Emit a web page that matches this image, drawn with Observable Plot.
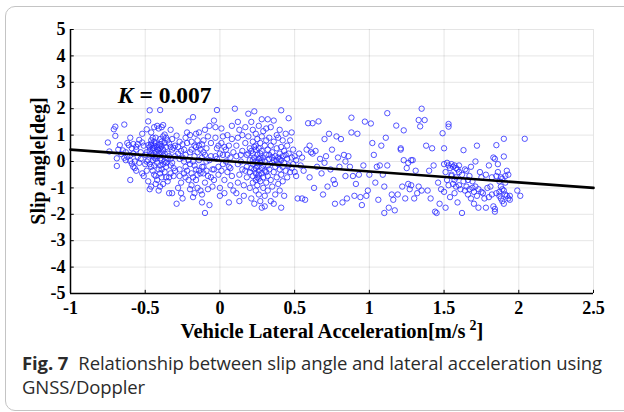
<!DOCTYPE html>
<html><head><meta charset="utf-8">
<script src="https://cdn.jsdelivr.net/npm/d3@7"></script>
<script src="https://cdn.jsdelivr.net/npm/@observablehq/plot@0.6"></script>
<style>
body{margin:0;background:#fff;width:624px;height:412px;overflow:hidden;position:relative;}
#card{position:absolute;left:5px;top:6px;width:660px;height:403px;border:1px solid #c4c4c4;border-radius:10px;}
#chart{position:absolute;left:0;top:0;}
#caption{position:absolute;left:22px;top:351px;font-family:"Open Sans";font-size:18.5px;color:#2b2b2b;line-height:24px;white-space:nowrap;letter-spacing:-0.1px;}
#caption b{margin-right:10px;}
</style></head><body>
<div id="card"></div>
<div id="chart"></div>
<div id="caption"><b>Fig. 7</b>Relationship between slip angle and lateral acceleration using<br>GNSS/Doppler</div>
<script>
// Tick values
const xTicks = [-1, -0.5, 0, 0.5, 1, 1.5, 2, 2.5];
const yTicks = [-5, -4, -3, -2, -1, 0, 1, 2, 3, 4, 5];

// Fitted line end points [acceleration, slip angle]
const fitAccel = [-1, 2.5];
const fitSlip = [0.45, -1.0];
const fitLabel = "K = 0.007";

// Samples [lateral acceleration m/s², slip angle deg]
const clusterA = [[-0.75,0.72],[-0.74,0.38],[-0.7,1.32],[-0.71,1.22],[-0.7,0.97],[-0.69,0.12],[-0.69,-0.17],[-0.68,0.45],[-0.67,0.62],[-0.64,1.4],[-0.66,0.28],[-0.64,0.14],[-0.63,0.05],[-0.62,0.7],[-0.61,0.62],[-0.6,-0.7],[-0.6,0.24],[-0.59,-0.08],[-0.58,-0.2],[-0.58,0.66],[-0.57,0.0],[-0.56,0.45],[-0.55,0.66],[-0.54,0.82],[-0.53,0.35],[-0.52,-0.45],[-0.51,-0.55],[-0.52,1.05],[-0.56,0.56],[-0.62,0.18],[-0.65,0.42],[-0.59,0.5],[-0.6,0.02],[-0.57,-0.25],[-0.55,0.18],[-0.53,0.1],[-0.58,0.3],[-0.63,0.35],[-0.51,0.6],[-0.5,0.25],[-0.5,-0.1],[-0.54,-0.05],[-0.56,-0.35],[-0.6,0.9],[-0.52,0.72]];
const clusterB = [[-0.49,1.22],[-0.48,1.52],[-0.47,1.94],[-0.46,1.1],[-0.45,0.9],[-0.44,0.75],[-0.48,0.62],[-0.47,0.55],[-0.46,0.62],[-0.45,0.5],[-0.44,0.6],[-0.43,0.68],[-0.42,0.55],[-0.41,0.62],[-0.4,0.5],[-0.39,0.58],[-0.38,0.45],[-0.47,0.4],[-0.46,0.3],[-0.45,0.22],[-0.44,0.15],[-0.43,0.1],[-0.42,0.2],[-0.41,0.3],[-0.4,0.12],[-0.39,0.05],[-0.38,0.22],[-0.37,0.0],[-0.36,-0.05],[-0.48,0.05],[-0.47,-0.1],[-0.46,-0.2],[-0.45,-0.35],[-0.44,-0.5],[-0.43,-0.55],[-0.42,-0.7],[-0.41,-0.3],[-0.4,-0.45],[-0.39,-0.6],[-0.38,-0.85],[-0.37,-0.4],[-0.36,-0.2],[-0.48,-0.75],[-0.47,-1.05],[-0.46,-0.95],[-0.43,-0.85],[-0.41,-1.1],[-0.4,-0.95],[-0.35,-0.75],[-0.34,-1.2],[-0.32,-1.2],[-0.44,1.3],[-0.42,1.35],[-0.41,1.25],[-0.4,1.95],[-0.39,1.3],[-0.38,1.38],[-0.37,1.02],[-0.36,0.9],[-0.35,0.8],[-0.34,0.68],[-0.33,0.55],[-0.32,0.45],[-0.31,0.52],[-0.35,0.3],[-0.34,0.2],[-0.33,0.1],[-0.32,-0.05],[-0.31,-0.25],[-0.3,-0.35],[-0.33,-0.45],[-0.34,-0.6],[-0.31,-0.55],[-0.3,0.2],[-0.3,0.6],[-0.32,0.85],[-0.33,1.2],[-0.45,0.42],[-0.43,0.35],[-0.41,0.42],[-0.39,0.35],[-0.42,-0.05],[-0.4,-0.15],[-0.38,-0.1],[-0.44,-0.15],[-0.45,0.05],[-0.37,0.3],[-0.36,0.55],[-0.37,0.7],[-0.43,0.9],[-0.4,0.85],[-0.38,0.95],[-0.46,0.8],[-0.49,0.35],[-0.49,0.0],[-0.49,-0.35],[-0.36,-0.6],[-0.39,-0.3],[-0.35,0.1],[-0.33,-0.15],[-0.42,0.45],[-0.44,0.52],[-0.4,0.65],[-0.46,0.68],[-0.39,0.75]];
const clusterC = [[-0.29,0.98],[-0.28,0.55],[-0.28,0.3],[-0.27,0.1],[-0.27,-0.3],[-0.27,-0.55],[-0.26,-0.8],[-0.26,-1.2],[-0.25,-1.4],[-0.29,-1.6],[-0.24,0.45],[-0.24,0.0],[-0.23,-0.2],[-0.23,-0.6],[-0.22,0.7],[-0.22,1.1],[-0.21,1.52],[-0.2,1.0],[-0.2,0.35],[-0.2,-0.1],[-0.19,-0.45],[-0.19,-0.9],[-0.18,-1.35],[-0.18,1.68],[-0.17,0.6],[-0.17,0.2],[-0.16,-0.3],[-0.16,-0.7],[-0.15,-1.0],[-0.15,0.8],[-0.14,1.1],[-0.14,0.05],[-0.13,-0.45],[-0.13,-1.1],[-0.12,-1.55],[-0.12,0.65],[-0.11,0.35],[-0.11,-0.2],[-0.1,-0.8],[-0.1,1.2],[-0.09,0.5],[-0.09,0.0],[-0.08,-0.55],[-0.08,-1.05],[-0.07,-1.65],[-0.07,1.35],[-0.06,0.7],[-0.06,0.2],[-0.05,-0.3],[-0.05,-0.95],[-0.25,0.65],[-0.23,0.25],[-0.21,0.05],[-0.19,0.45],[-0.18,0.0],[-0.17,-0.15],[-0.15,0.35],[-0.14,-0.35],[-0.12,0.15],[-0.11,-0.45],[-0.1,0.25],[-0.26,0.4],[-0.25,0.15],[-0.24,-0.45],[-0.22,-0.35],[-0.21,-0.7],[-0.2,-1.05],[-0.18,-0.6],[-0.16,0.55],[-0.15,-0.5],[-0.13,0.45],[-0.12,-0.2],[-0.09,-0.35],[-0.07,0.05],[-0.06,-0.6],[-0.28,-1.0],[-0.27,0.75],[-0.23,0.9],[-0.19,0.75],[-0.16,1.05],[-0.14,0.6],[-0.11,0.8],[-0.08,0.95],[-0.1,-1.95],[-0.12,-1.25],[-0.17,-1.2]];
const clusterD = [[-0.04,1.55],[-0.03,1.3],[-0.03,0.9],[-0.02,0.5],[-0.02,0.1],[-0.01,-0.2],[-0.01,-0.5],[0.0,-1.0],[0.0,-1.3],[-0.02,1.95],[0.01,1.25],[0.01,0.7],[0.02,0.25],[0.02,-0.1],[0.03,-0.7],[0.03,-1.2],[0.04,0.45],[0.04,0.0],[0.05,-0.4],[0.05,1.0],[0.06,0.6],[0.06,-0.2],[0.07,-0.9],[0.07,0.15],[0.08,0.85],[0.08,-0.55],[0.09,0.35],[0.09,-1.1],[0.0,0.3],[-0.04,-0.3],[-0.04,-0.7],[0.01,-0.35],[0.05,0.25],[0.02,0.95],[-0.01,0.6],[0.06,-1.55],[0.08,1.35],[-0.03,0.2],[0.03,0.55],[0.07,-0.25]];
const clusterE = [[0.1,2.0],[0.12,1.5],[0.13,1.2],[0.12,0.9],[0.11,0.6],[0.11,0.2],[0.12,-0.1],[0.13,-0.5],[0.12,-0.8],[0.11,-1.2],[0.13,-1.5],[0.15,1.0],[0.15,0.4],[0.14,0.0],[0.15,-0.3],[0.16,-0.9],[0.16,-1.3],[0.17,1.3],[0.17,0.7],[0.18,0.25],[0.18,-0.2],[0.18,-0.6],[0.19,1.81],[0.19,0.95],[0.2,0.5],[0.2,0.05],[0.2,-0.4],[0.2,-1.0],[0.21,-1.4],[0.21,1.5],[0.22,1.2],[0.22,0.75],[0.22,0.3],[0.22,-0.1],[0.22,-0.55],[0.22,-0.8],[0.23,1.9],[0.23,0.15],[0.23,-0.3],[0.23,-1.6],[0.24,1.05],[0.24,0.6],[0.24,0.45],[0.24,0.0],[0.24,-0.45],[0.24,-0.7],[0.24,-1.1],[0.25,0.85],[0.25,0.25],[0.25,-0.2],[0.25,-0.6],[0.25,-0.9],[0.26,1.35],[0.26,0.5],[0.26,0.1],[0.26,-0.35],[0.26,-0.5],[0.26,-1.25],[0.27,0.7],[0.27,0.3],[0.27,-0.05],[0.27,-0.75],[0.27,-1.5],[0.28,1.6],[0.28,0.95],[0.28,0.4],[0.28,-0.25],[0.28,-0.45],[0.28,-1.75],[0.29,1.15],[0.29,0.15],[0.29,-0.6],[0.29,-1.0],[0.3,0.6],[0.3,0.0],[0.3,-0.35],[0.3,-1.3],[0.3,-1.7],[0.31,1.25],[0.31,0.8],[0.31,0.25],[0.31,-0.8],[0.32,1.6],[0.32,0.45],[0.32,-0.15],[0.32,-0.55],[0.32,-1.1],[0.33,0.9],[0.33,0.1],[0.33,-0.3],[0.34,1.3],[0.34,0.6],[0.34,-0.7],[0.34,-1.5],[0.35,0.35],[0.35,-0.05],[0.35,-0.95],[0.36,1.55],[0.36,0.75],[0.36,-0.4],[0.36,-1.6],[0.37,0.2],[0.37,-0.2],[0.37,-1.25],[0.38,1.0],[0.38,0.5],[0.38,-0.6],[0.39,0.9],[0.39,0.15],[0.39,-0.1],[0.39,-0.85],[0.4,1.2],[0.4,0.3],[0.4,-0.3],[0.4,-1.1],[0.41,1.94],[0.41,0.55],[0.41,0.05],[0.41,-0.5],[0.41,-1.75],[0.42,0.8],[0.42,0.2],[0.42,-0.2],[0.42,-0.75],[0.43,0.4],[0.43,-0.05],[0.43,-1.3],[0.44,1.05],[0.44,0.25],[0.44,-0.35],[0.45,0.6],[0.45,0.1],[0.45,-0.6],[0.46,1.64],[0.46,0.3],[0.46,-0.15],[0.47,0.8],[0.47,-0.4],[0.48,1.1],[0.48,0.15],[0.48,-0.25],[0.49,0.45],[0.49,-0.1],[0.5,0.2],[0.5,-0.4],[0.21,0.4],[0.23,0.55],[0.25,-0.05],[0.27,0.15],[0.26,-0.65],[0.24,-0.25],[0.22,0.05],[0.28,0.05],[0.29,-0.15],[0.21,-0.25],[0.19,0.3],[0.17,-0.35],[0.33,0.25],[0.31,-0.4],[0.35,0.15],[0.38,0.05],[0.4,0.1],[0.36,0.05],[0.14,0.25]];
const clusterF = [[0.51,0.05],[0.51,-0.55],[0.52,-1.4],[0.53,0.3],[0.54,-0.15],[0.55,0.15],[0.55,-1.4],[0.56,-0.35],[0.57,-1.45],[0.58,0.45],[0.59,1.45],[0.6,0.6],[0.6,-0.6],[0.61,0.35],[0.62,1.45],[0.62,0.3],[0.63,-1.0],[0.64,0.4],[0.65,-0.2],[0.66,1.52],[0.67,0.1],[0.68,-0.45],[0.69,-1.25],[0.7,0.85],[0.71,0.2],[0.72,-0.95],[0.73,1.05],[0.74,-0.3],[0.75,0.45],[0.76,-0.7],[0.77,-1.6],[0.78,0.95],[0.79,0.15],[0.8,-0.2],[0.81,0.85],[0.82,-1.55],[0.83,0.25],[0.84,-0.55],[0.85,-1.4],[0.86,0.2],[0.87,-0.2],[0.88,1.66],[0.88,1.1],[0.89,-0.55],[0.9,-1.3],[0.91,-0.85],[0.92,1.05],[0.93,-0.5],[0.94,-1.35],[0.95,-1.65],[0.96,-0.15],[0.97,1.51],[0.98,-1.3],[0.99,-1.1],[0.77,-0.85],[0.7,-0.05],[0.84,0.0]];
const clusterG = [[1.0,-0.5],[1.01,1.44],[1.02,0.7],[1.03,0.25],[1.04,-0.8],[1.05,-0.2],[1.06,-1.45],[1.07,-0.15],[1.08,0.6],[1.09,-0.5],[1.1,-0.95],[1.1,-1.95],[1.11,0.9],[1.12,1.83],[1.12,-0.15],[1.13,-1.75],[1.15,-1.25],[1.16,-1.45],[1.17,-1.85],[1.18,1.36],[1.19,-1.25],[1.21,0.5],[1.22,-0.95],[1.23,1.18],[1.23,0.05],[1.24,-1.4],[1.25,-0.25],[1.26,-0.85],[1.27,-1.05],[1.28,-0.9],[1.29,0.05],[1.3,-1.4],[1.31,-0.35],[1.32,-1.2],[1.33,-0.95],[1.33,1.57],[1.34,1.33],[1.35,2.0],[1.35,-1.1],[1.37,1.57],[1.38,0.6],[1.39,-1.1],[1.4,-0.35],[1.41,-1.4],[1.42,0.5],[1.43,-0.15],[1.44,-1.9],[1.45,-1.95],[1.21,0.45],[1.28,0.05],[1.26,-0.05]];
const clusterH = [[1.46,-0.8],[1.47,-1.6],[1.48,-1.05],[1.49,1.07],[1.5,0.5],[1.5,-0.1],[1.5,-1.15],[1.51,-0.4],[1.51,-1.75],[1.52,-0.05],[1.52,-0.7],[1.53,1.42],[1.53,1.32],[1.53,-0.15],[1.53,-0.9],[1.54,-1.35],[1.55,-0.1],[1.55,-0.5],[1.56,-0.2],[1.56,-0.85],[1.57,-0.15],[1.57,-1.2],[1.58,-0.6],[1.58,-0.25],[1.59,-0.3],[1.59,-1.55],[1.6,-0.9],[1.6,-0.4],[1.61,-1.05],[1.62,-1.95],[1.63,0.43],[1.63,-0.75],[1.64,-1.1],[1.65,-0.35],[1.65,-0.95],[1.66,-1.25],[1.67,-0.55],[1.67,-1.05],[1.68,-0.2],[1.68,-1.4],[1.69,-0.75],[1.7,-1.15],[1.7,-1.6],[1.71,-0.95],[1.71,0.0],[1.72,0.6],[1.72,-1.3],[1.73,-1.05],[1.73,-1.75],[1.74,-0.4],[1.75,-1.15],[1.75,-0.6],[1.76,-1.2],[1.77,-1.4],[1.78,-0.5],[1.78,-1.75],[1.79,-1.0],[1.8,-0.15],[1.8,-1.35],[1.55,-0.55],[1.58,-0.95],[1.62,-0.5],[1.66,-0.7],[1.69,-1.0],[1.57,-0.7],[1.6,-0.15],[1.64,-0.3],[1.54,-0.25]];
const clusterI = [[1.81,-0.95],[1.82,-1.25],[1.83,-1.7],[1.83,0.15],[1.84,-1.8],[1.84,-1.9],[1.85,0.62],[1.85,-0.55],[1.85,-1.2],[1.86,-0.1],[1.86,-0.4],[1.87,-0.75],[1.87,-1.3],[1.88,-0.95],[1.88,-0.6],[1.89,-1.05],[1.89,-1.5],[1.9,0.86],[1.9,0.19],[1.9,-1.6],[1.9,-1.1],[1.91,-1.25],[1.91,-0.8],[1.91,-0.55],[1.92,-1.3],[1.92,-0.35],[1.93,-0.5],[1.93,-1.4],[1.94,-1.45],[1.94,-1.3],[1.99,-1.1],[2.01,-1.3],[2.04,0.86],[1.82,-0.6],[1.88,-1.4],[1.87,-1.15],[1.84,0.1],[1.89,-0.65]];

const samples = [...clusterA, ...clusterB, ...clusterC, ...clusterD, ...clusterE, ...clusterF, ...clusterG, ...clusterH, ...clusterI]
  .map(([accel, slip]) => ({accel, slip}));
const fit = fitAccel.map((a, i) => ({accel: a, slip: fitSlip[i]}));

const serif = "'Liberation Serif', 'Times New Roman', serif";
const fmt = d => String(d);

const plot = Plot.plot({
  width: 624, height: 345,
  marginLeft: 70, marginRight: 31, marginTop: 29, marginBottom: 52,
  style: {fontFamily: serif, fontSize: "18px", fontWeight: "bold", color: "#000", background: "transparent", overflow: "visible"},
  x: {domain: [-1, 2.5], ticks: xTicks, tickFormat: fmt, tickSize: 0, tickPadding: 8, label: null, grid: true},
  y: {domain: [-5, 5], ticks: yTicks, tickFormat: fmt, tickSize: 0, tickPadding: 5, label: null, grid: true},
  marks: [
    Plot.dot(samples, {x: "accel", y: "slip", r: 2.7, stroke: "#2a2aff", strokeWidth: 0.8, fill: "none"}),
    Plot.line(fit, {x: "accel", y: "slip", stroke: "#000", strokeWidth: 2.6}),
    Plot.ruleX(xTicks, {y1: -5, y2: -4.88, stroke: "#000", strokeWidth: 1}),
    Plot.ruleY(yTicks, {x1: -1, x2: -0.975, stroke: "#000", strokeWidth: 1}),
    Plot.ruleX([-1], {stroke: "#000", strokeWidth: 1.5}),
    Plot.ruleY([-5], {stroke: "#000", strokeWidth: 1.5})
  ]
});
document.getElementById("chart").appendChild(plot);

const svg = d3.select(plot);
const sx = plot.scale("x"), sy = plot.scale("y");
// K label
const k = svg.append("text")
  .attr("x", sx.apply(-0.68)).attr("y", sy.apply(2.52)).attr("dy", "0.35em")
  .attr("text-anchor", "start")
  .attr("font-family", serif).attr("font-weight", "bold").attr("font-size", 23.5).attr("fill", "#000");
const [kSym, kRest] = [fitLabel.slice(0, 1), fitLabel.slice(1)];
k.append("tspan").attr("font-style", "italic").text(kSym);
k.append("tspan").text(kRest);
// y title
svg.append("text")
  .attr("transform", "translate(38,161) rotate(-90)")
  .attr("text-anchor", "middle").attr("dy", "0.35em")
  .attr("font-family", serif).attr("font-weight", "bold").attr("font-size", 20).attr("fill", "#000")
  .text("Slip angle[deg]");
// x title
const xt = svg.append("text")
  .attr("x", 332).attr("y", 338).attr("text-anchor", "middle")
  .attr("font-family", serif).attr("font-weight", "bold").attr("font-size", 20.5).attr("fill", "#000");
xt.append("tspan").text("Vehicle Lateral Acceleration[m/s");
xt.append("tspan").attr("dy", -8).attr("dx", 4).attr("font-size", 14).text("2");
xt.append("tspan").attr("dy", 8).text("]");
</script>
</body></html>
